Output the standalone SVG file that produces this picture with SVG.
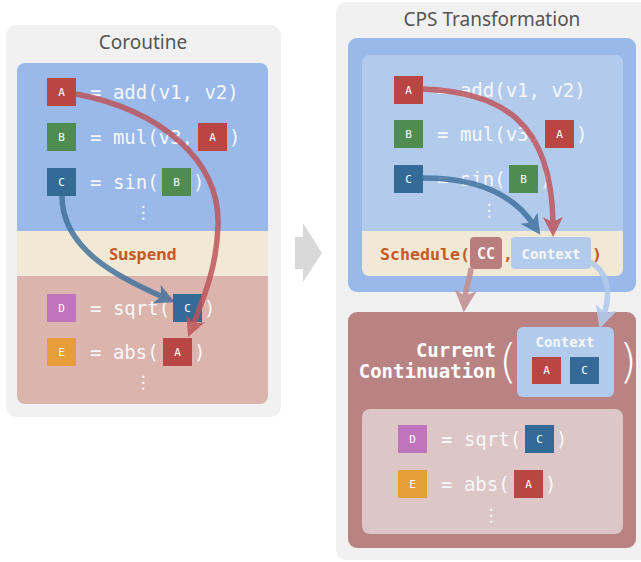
<svg xmlns="http://www.w3.org/2000/svg" width="641" height="562" viewBox="0 0 641 562">
  <defs>
    <style>
      .panel { fill: #f1f1f1; }
      .title { font-family: "Noto Sans", "Open Sans", sans-serif; font-size: 19px; fill: #555555; text-anchor: middle; }
      .code { font-family: "DejaVu Sans Mono", "Liberation Mono", monospace; font-size: 19px; fill: #f7f7f7; }
      .dots { font-family: "DejaVu Sans", sans-serif; font-size: 17px; fill: #f7f7f7; text-anchor: middle; }
      .tag { font-family: "DejaVu Sans Mono", "Liberation Mono", monospace; font-size: 11px; fill: #ffffff; text-anchor: middle; }
      .sched { font-family: "DejaVu Sans Mono", "Liberation Mono", monospace; font-size: 16.6px; font-weight: bold; fill: #c65a27; }
      .pill { font-family: "DejaVu Sans Mono", "Liberation Mono", monospace; font-weight: bold; fill: #f7f7f7; text-anchor: middle; }
      .cc { font-family: "DejaVu Sans Mono", "Liberation Mono", monospace; font-size: 19px; font-weight: bold; fill: #ffffff; text-anchor: end; }
      .paren { font-family: "DejaVu Sans", sans-serif; font-size: 46px; font-weight: 200; fill: #ffffff; }
      .ra { fill: #b94643; }
      .gb { fill: #4f8c4f; }
      .bc { fill: #336a96; }
      .pd { fill: #bf74bd; }
      .oe { fill: #e69f38; }
      .blue { fill: #98b9ea; }
      .lblue { fill: #b2cbec; }
      .tan { fill: #f1e8d6; }
      .arrow { fill: none; stroke-width: 5.5; }
    </style>
    <marker id="head-red" viewBox="0 0 20 20" markerWidth="20" markerHeight="20" refX="7" refY="10" orient="auto" markerUnits="userSpaceOnUse">
      <path d="M0,0 L20,10 L0,20 L5,10 Z" fill="#bf5257"/>
    </marker>
    <marker id="head-blue" viewBox="0 0 20 20" markerWidth="20" markerHeight="20" refX="7" refY="10" orient="auto" markerUnits="userSpaceOnUse">
      <path d="M0,0 L20,10 L0,20 L5,10 Z" fill="#3f709c"/>
    </marker>
    <marker id="head-pink" viewBox="0 0 20 20" markerWidth="22" markerHeight="22" refX="7" refY="10" orient="auto" markerUnits="userSpaceOnUse">
      <path d="M0,0 L20,10 L0,20 L5,10 Z" fill="#c49091"/>
    </marker>
    <marker id="head-lblue" viewBox="0 0 20 20" markerWidth="22" markerHeight="22" refX="7" refY="10" orient="auto" markerUnits="userSpaceOnUse">
      <path d="M0,0 L20,10 L0,20 L5,10 Z" fill="#b2cbec"/>
    </marker>
  </defs>

  <!-- Coroutine panel -->
  <g id="coroutine">
    <rect class="panel" x="6" y="25" width="275" height="392" rx="11"/>
    <text class="title" x="143" y="49">Coroutine</text>
    <path class="blue" d="M17,71 a8,8 0 0 1 8,-8 H260 a8,8 0 0 1 8,8 V231 H17 Z"/>
    <rect class="tan" x="17" y="231" width="251" height="45"/>
    <path fill="#dab4ad" d="M17,276 H268 V396 a8,8 0 0 1 -8,8 H25 a8,8 0 0 1 -8,-8 Z"/>
  </g>

  <g id="co-row-a">
    <rect class="ra" x="47" y="78" width="29" height="28"/><text class="tag" x="61.5" y="96">A</text>
    <text class="code" x="90" y="99">= add(v1, v2)</text>
  </g>
  <g id="co-row-b">
    <rect class="gb" x="47" y="123" width="29" height="28"/><text class="tag" x="61.5" y="141">B</text>
    <text class="code" x="90" y="144">= mul(v3,</text>
    <rect class="ra" x="198" y="123" width="29" height="28"/><text class="tag" x="212.5" y="141">A</text>
    <text class="code" x="229" y="144">)</text>
  </g>
  <g id="co-row-c">
    <rect class="bc" x="47" y="168" width="29" height="28"/><text class="tag" x="61.5" y="186">C</text>
    <text class="code" x="90" y="189">= sin(</text>
    <rect class="gb" x="162" y="168" width="29" height="28"/><text class="tag" x="176.5" y="186">B</text>
    <text class="code" x="193" y="189">)</text>
    <text class="dots" x="143" y="218">⋮</text>
  </g>
  <g id="suspend">
    <text x="143" y="260" font-family="'Noto Sans', 'Open Sans', sans-serif" font-size="16" font-weight="bold" fill="#c65a27" text-anchor="middle">Suspend</text>
  </g>
  <g id="co-row-d">
    <rect class="pd" x="47" y="294" width="29" height="28"/><text class="tag" x="61.5" y="312">D</text>
    <text class="code" x="90" y="315">= sqrt(</text>
    <rect class="bc" x="173" y="294" width="29" height="28"/><text class="tag" x="187.5" y="312">C</text>
    <text class="code" x="204" y="315">)</text>
  </g>
  <g id="co-row-e">
    <rect class="oe" x="47" y="338" width="29" height="28"/><text class="tag" x="61.5" y="356">E</text>
    <text class="code" x="90" y="359">= abs(</text>
    <rect class="ra" x="163" y="338" width="29" height="28"/><text class="tag" x="177.5" y="356">A</text>
    <text class="code" x="194" y="359">)</text>
    <text class="dots" x="143" y="388">⋮</text>
  </g>

  <!-- transformation arrow between panels -->
  <g id="transform-arrow">
    <polygon fill="#d9d9d9" points="295,237 303,237 303,223 322,253 303,282 303,269 295,269"/>
  </g>

  <!-- CPS Transformation panel -->
  <g id="cps">
    <rect class="panel" x="336" y="2" width="320" height="558" rx="11"/>
    <text class="title" x="492" y="26">CPS Transformation</text>
  </g>

  <g id="cps-body">
    <rect class="blue" x="348" y="38" width="288" height="254" rx="9"/>
    <path class="lblue" d="M362,62 a7,7 0 0 1 7,-7 H616 a7,7 0 0 1 7,7 V231 H362 Z"/>
    <path class="tan" d="M362,231 H623 V269 a7,7 0 0 1 -7,7 H369 a7,7 0 0 1 -7,-7 Z"/>
  </g>

  <g id="cps-row-a">
    <rect class="ra" x="394" y="76" width="29" height="28"/><text class="tag" x="408.5" y="94">A</text>
    <text class="code" x="437" y="97">= add(v1, v2)</text>
  </g>
  <g id="cps-row-b">
    <rect class="gb" x="394" y="120" width="29" height="28"/><text class="tag" x="408.5" y="138">B</text>
    <text class="code" x="437" y="141">= mul(v3,</text>
    <rect class="ra" x="545" y="120" width="29" height="28"/><text class="tag" x="559.5" y="138">A</text>
    <text class="code" x="576" y="141">)</text>
  </g>
  <g id="cps-row-c">
    <rect class="bc" x="394" y="165" width="29" height="28"/><text class="tag" x="408.5" y="183">C</text>
    <text class="code" x="437" y="186">= sin(</text>
    <rect class="gb" x="509" y="165" width="29" height="28"/><text class="tag" x="523.5" y="183">B</text>
    <text class="code" x="540" y="186">)</text>
    <text class="dots" x="489" y="216">⋮</text>
  </g>

  <g id="schedule">
    <text class="sched" x="380" y="260">Schedule(</text>
    <rect fill="#b97d7d" x="470" y="237" width="32" height="32" rx="4"/>
    <text class="pill" x="486" y="259" font-size="15">CC</text>
    <text class="sched" x="503" y="260">,</text>
    <rect class="lblue" x="511" y="237" width="80" height="32" rx="4"/>
    <text class="pill" x="551" y="259" font-size="14">Context</text>
    <text class="sched" x="592" y="260">)</text>
  </g>

  <g id="current-continuation">
    <rect fill="#b98383" x="348" y="312" width="288" height="236" rx="9"/>
    <text class="cc" x="496" y="357">Current</text>
    <text class="cc" x="496" y="378">Continuation</text>
    <text class="paren" x="499" y="377">(</text>
    <text class="paren" x="619" y="377">)</text>
  </g>

  <g id="context">
    <rect class="lblue" x="517" y="327" width="97" height="70" rx="6"/>
    <text class="pill" x="565" y="347" font-size="14">Context</text>
    <rect class="ra" x="532" y="357" width="29" height="27"/><text class="tag" x="546.5" y="374">A</text>
    <rect class="bc" x="570" y="357" width="29" height="27"/><text class="tag" x="584.5" y="374">C</text>
  </g>

  <g id="continuation-body">
    <rect fill="#dcc6c6" x="362" y="409" width="261" height="125" rx="8"/>
    <rect class="pd" x="398" y="425" width="29" height="28"/><text class="tag" x="412.5" y="443">D</text>
    <text class="code" x="441" y="446">= sqrt(</text>
    <rect class="bc" x="525" y="425" width="29" height="28"/><text class="tag" x="539.5" y="443">C</text>
    <text class="code" x="556" y="446">)</text>
    <rect class="oe" x="398" y="470" width="29" height="28"/><text class="tag" x="412.5" y="488">E</text>
    <text class="code" x="441" y="491">= abs(</text>
    <rect class="ra" x="514" y="470" width="29" height="28"/><text class="tag" x="528.5" y="488">A</text>
    <text class="code" x="545" y="491">)</text>
    <text class="dots" x="491" y="521">⋮</text>
  </g>

  <!-- connectors -->
  <g id="connectors">
    <path class="arrow" stroke="#3f709c" opacity="0.82" marker-end="url(#head-blue)" d="M62,196 C62,250 120,278 163,297"/>
    <path class="arrow" stroke="#bf5257" opacity="0.82" marker-end="url(#head-red)" d="M76,94 C160,110 220,160 218,225 C217,265 205,295 193,325"/>
    <path class="arrow" stroke="#bf5257" opacity="0.82" marker-end="url(#head-red)" d="M423,89 C500,92 552,120 553,224"/>
    <path class="arrow" stroke="#3f709c" opacity="0.82" marker-end="url(#head-blue)" d="M423,178 C470,178 510,190 533,224"/>
    <path class="arrow" stroke="#c49091" stroke-width="7" opacity="0.9" marker-end="url(#head-pink)" d="M471,268 C470,280 466,286 465,298"/>
    <path class="arrow" stroke="#b2cbec" stroke-width="6" opacity="0.9" marker-end="url(#head-lblue)" d="M590,262 C606,270 612,290 604,315"/>
  </g>
</svg>
